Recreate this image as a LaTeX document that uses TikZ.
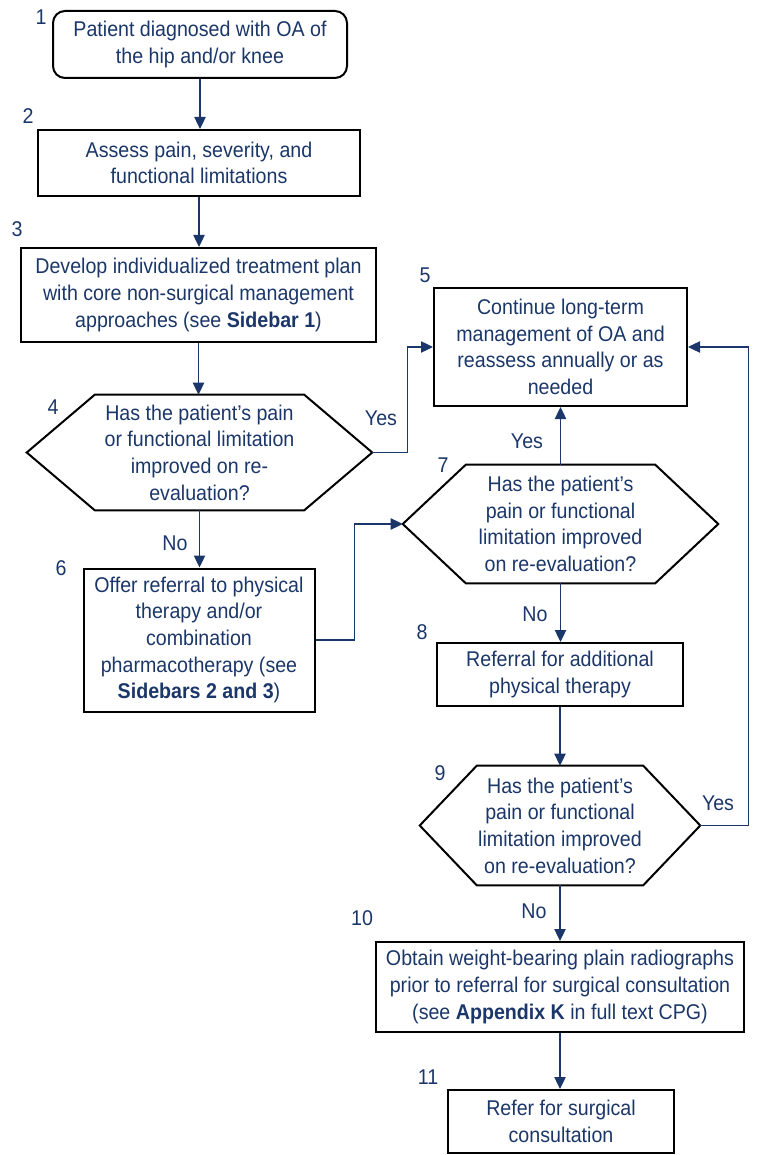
\documentclass[tikz,border=0pt]{standalone}
\usepackage{fontspec}
\setmainfont{Liberation Sans}[FakeStretch=0.92]
\usetikzlibrary{arrows.meta}
\definecolor{navy}{HTML}{1B3668}
\begin{document}
\begin{tikzpicture}[x=0.75pt,y=-0.75pt,
  every node/.style={text=navy,font=\fontsize{16}{20}\selectfont,inner sep=0pt,align=center},
  box/.style={draw=black,line width=1.5pt},
  hexbox/.style={draw=none},
  hexline/.style={draw=black,line width=1.5pt,line join=miter},
  conn/.style={draw=navy,line width=0.9pt},
  arr/.style={conn,-{Triangle[width=8.5pt,length=9pt]}},
  num/.style={},
  lab/.style={}]
\useasboundingbox (0,0) rectangle (758,1155);
% boxes
\node[box,rounded corners=9pt,minimum width=220.5pt,minimum height=50.25pt] (n1) at (200,44.5) {Patient diagnosed with OA of\\the hip and/or knee};
\node[box,minimum width=241.5pt,minimum height=49.5pt] (n2) at (199,163) {Assess pain, severity, and\\functional limitations};
\node[box,minimum width=266.25pt,minimum height=70.5pt] (n3) at (198.5,295) {Develop individualized treatment plan\\with core non-surgical management\\approaches (see \textbf{Sidebar 1})};
\node[box,minimum width=189.75pt,minimum height=88.5pt] (n5) at (560.5,347) {Continue long-term\\management of OA and\\reassess annually or as\\needed};
\node[box,minimum width=173.25pt,minimum height=107.25pt] (n6) at (199,640) {Offer referral to physical\\therapy and/or\\combination\\pharmacotherapy (see\\\textbf{Sidebars 2 and 3})};
\node[box,minimum width=184.5pt,minimum height=47.25pt] (n8) at (560,674.5) {Referral for additional\\physical therapy};
\node[box,minimum width=276pt,minimum height=67.5pt] (n10) at (560,987) {Obtain weight-bearing plain radiographs\\prior to referral for surgical consultation\\(see \textbf{Appendix K} in full text CPG)};
\node[box,minimum width=169.5pt,minimum height=47.25pt] (n11) at (561,1121.5) {Refer for surgical\\consultation};
% decisions
\node[hexbox,minimum width=258.75pt,minimum height=86.25pt] (d4) at (199.5,452.5) {Has the patient’s pain\\or functional limitation\\improved on re-\\evaluation?};
\node[hexbox,minimum width=236.25pt,minimum height=88.5pt] (d7) at (560.5,524) {Has the patient’s\\pain or functional\\limitation improved\\on re-evaluation?};
\node[hexbox,minimum width=210pt,minimum height=89.25pt] (d9) at (560,825.5) {Has the patient’s\\pain or functional\\limitation improved\\on re-evaluation?};
\draw[hexline] (d4.west) -- ([xshift=51pt]d4.north west) -- ([xshift=-51pt]d4.north east) -- (d4.east) -- ([xshift=-51pt]d4.south east) -- ([xshift=51pt]d4.south west) -- cycle;
\draw[hexline] (d7.west) -- ([xshift=47.25pt]d7.north west) -- ([xshift=-47.25pt]d7.north east) -- (d7.east) -- ([xshift=-47.25pt]d7.south east) -- ([xshift=47.25pt]d7.south west) -- cycle;
\draw[hexline] (d9.west) -- ([xshift=42.75pt]d9.north west) -- ([xshift=-42.75pt]d9.north east) -- (d9.east) -- ([xshift=-42.75pt]d9.south east) -- ([xshift=42.75pt]d9.south west) -- cycle;
% numbers
\node[num] (l1) at (41,17) {1};
\node[num] (l2) at (28,116) {2};
\node[num] (l3) at (17,229) {3};
\node[num] (l4) at (53,407) {4};
\node[num] (l5) at (425,275) {5};
\node[num] (l6) at (61,568) {6};
\node[num] (l7) at (443,465) {7};
\node[num] (l8) at (422,632) {8};
\node[num] (l9) at (440,773) {9};
\node[num] (l10) at (362,918) {10};
\node[num] (l11) at (428,1077) {11};
% connectors
\draw[arr] (n1.south) -- (n1.south |- n2.north);
\draw[arr] (n2.south) -- (n2.south |- n3.north);
\draw[arr] (n3.south) -- (n3.south |- d4.north);
\draw[arr] (d4.south) -- (d4.south |- n6.north);
\draw[arr] (d4.east) -- ++(35,0) |- (n5.west);
\draw[arr] (n6.east) -- ++(39,0) |- (d7.west);
\draw[arr] (d7.north) -- (d7.north |- n5.south);
\draw[arr] (d7.south) -- (d7.south |- n8.north);
\draw[arr] (n8.south) -- (n8.south |- d9.north);
\draw[arr] (d9.east) -- ++(48,0) |- (n5.east);
\draw[arr] (d9.south) -- (d9.south |- n10.north);
\draw[arr] (n10.south) -- (n10.south |- n11.north);
% branch labels
\node[lab] (y4) at (381,418) {Yes};
\node[lab] (no4) at (175,543) {No};
\node[lab] (y7) at (527,441) {Yes};
\node[lab] (no7) at (535,614) {No};
\node[lab] (y9) at (718,803) {Yes};
\node[lab] (no9) at (534,911) {No};
\end{tikzpicture}
\end{document}
